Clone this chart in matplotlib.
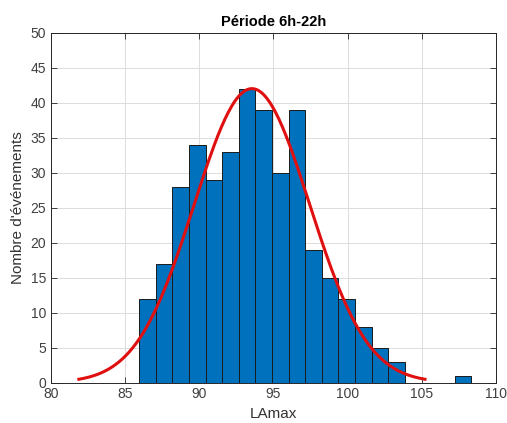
import numpy as np
from matplotlib import pyplot as plt

# histogramme des LAmax sur la periode de jour
bin_start = 85.94
bin_width = 1.12
counts = [12, 17, 28, 34, 29, 33, 42, 39, 30, 39, 19, 15, 12, 8, 5, 3, 0, 0, 0, 1]

# parametres de la loi normale ajustee
mu = 93.55
sigma = 3.89
n_total = sum(counts)

plt.rcParams['font.family'] = ['Liberation Sans', 'DejaVu Sans']

fig = plt.figure(figsize=(5.07, 4.23), dpi=100)
ax = fig.add_axes([0.1006, 0.0957, 0.8774, 0.8263])

edges = bin_start + bin_width * np.arange(len(counts) + 1)
ax.bar(edges[:-1], counts, width=bin_width, align='edge',
       color='#0072BD', edgecolor='#1a1a1a', linewidth=0.7, zorder=2)

# courbe gaussienne sur +/- 3 sigma
x = np.linspace(mu - 3 * sigma, mu + 3 * sigma, 200)
y = n_total * bin_width / (sigma * np.sqrt(2 * np.pi)) * np.exp(-0.5 * ((x - mu) / sigma) ** 2)
ax.plot(x, y, color='#e01010', linewidth=2.2, zorder=3)

ax.set_xlim(80, 110)
ax.set_ylim(0, 50)
ax.set_xticks(np.arange(80, 111, 5))
ax.set_yticks(np.arange(0, 51, 5))
ax.grid(True, color='#dcdcdc', linewidth=0.7, zorder=0)
ax.set_axisbelow(True)
ax.tick_params(direction='in', top=True, right=True, labelsize=10,
               color='#262626', labelcolor='#404040', length=4, width=0.6)
for s in ax.spines.values():
    s.set_color('#262626')
    s.set_linewidth(0.7)

ax.set_title('Période 6h-22h', fontsize=10.5, fontweight='bold', pad=5)
ax.set_xlabel('LAmax', fontsize=11, color='#333333')
ax.set_ylabel("Nombre d'événements", fontsize=11, color='#333333')

fig.savefig('out.png', dpi=100)
